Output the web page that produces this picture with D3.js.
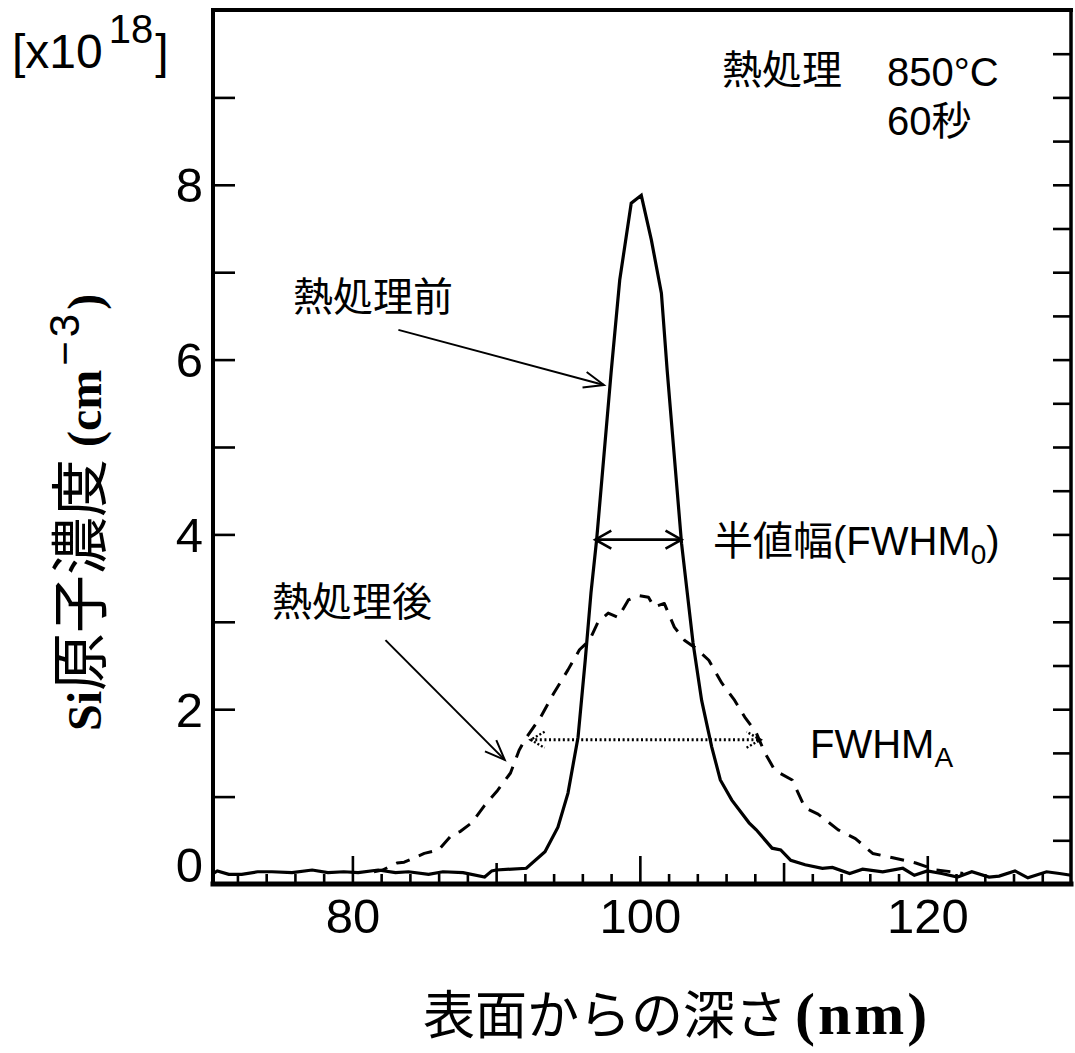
<!DOCTYPE html>
<html>
<head>
<meta charset="utf-8">
<script src="https://cdn.jsdelivr.net/npm/d3@7"></script>
<style>
  body { margin: 0; background: #fff; }
  svg { display: block; }
</style>
</head>
<body>
<svg id="chart" width="1075" height="1053"></svg>
<script>
// SIMS depth profile of Si atoms: as-implanted vs. after anneal (850°C, 60 s)
const depthBefore = [70.3, 70.6, 71.4, 72.3, 73.4, 74.4, 75.8, 77.2, 78.3, 79.4, 80.4, 81.8, 83.0, 83.9, 85.3, 86.3, 87.7, 89.2, 89.7, 90.0, 92.1, 93.4, 94.3, 95.0, 95.7, 96.2, 96.6, 97.0, 98.0, 98.6, 99.4, 100.1, 100.8, 101.5, 101.9, 102.9, 103.7, 104.3, 105.0, 105.6, 106.4, 107.6, 108.1, 109.2, 109.8, 110.5, 111.5, 112.7, 113.4, 114.6, 115.5, 116.9, 118.3, 119.1, 120.0, 121.0, 122.1, 123.1, 124.3, 125.0, 126.1, 127.0, 128.3, 129.2, 130.0];
const concBefore  = [0.12, 0.15, 0.11, 0.11, 0.14, 0.14, 0.13, 0.16, 0.13, 0.14, 0.13, 0.16, 0.13, 0.14, 0.11, 0.14, 0.13, 0.08, 0.15, 0.16, 0.18, 0.37, 0.65, 1.04, 1.68, 2.56, 3.33, 3.95, 5.85, 6.91, 7.79, 7.88, 7.37, 6.76, 5.88, 3.90, 2.76, 2.10, 1.57, 1.19, 0.96, 0.70, 0.62, 0.41, 0.39, 0.27, 0.22, 0.18, 0.19, 0.12, 0.17, 0.14, 0.18, 0.10, 0.15, 0.12, 0.08, 0.14, 0.08, 0.09, 0.15, 0.07, 0.14, 0.12, 0.10];

const depthAfter = [81.5, 82.1, 83.1, 83.6, 85.0, 86.0, 86.9, 87.5, 88.3, 89.2, 90.1, 91.0, 91.6, 92.0, 93.1, 94.0, 95.0, 95.8, 96.5, 97.1, 97.8, 98.5, 99.2, 99.9, 100.6, 101.0, 101.7, 102.4, 103.1, 103.8, 104.8, 105.7, 106.6, 107.3, 108.1, 108.7, 109.4, 110.6, 111.5, 112.4, 113.8, 115.0, 116.2, 117.6, 119.2, 120.6, 121.7, 122.5];
const concAfter  = [0.14, 0.16, 0.24, 0.25, 0.35, 0.39, 0.56, 0.60, 0.70, 0.90, 1.07, 1.27, 1.53, 1.65, 1.91, 2.18, 2.45, 2.68, 2.79, 3.00, 3.10, 3.05, 3.25, 3.30, 3.28, 3.17, 3.21, 2.94, 2.79, 2.71, 2.56, 2.30, 2.10, 1.91, 1.73, 1.50, 1.30, 1.19, 0.87, 0.80, 0.62, 0.52, 0.35, 0.30, 0.24, 0.16, 0.14, 0.12];

// axis ticks
const xTickLabels = [80, 100, 120];
const xTicksMid   = [90, 110];
const xTicksMinor = [72, 74, 76, 78, 82, 84, 86, 88, 92, 94, 96, 98, 102, 104, 106, 108, 112, 114, 116, 118, 122, 124, 126, 128];
const yTickLabels = [0, 2, 4, 6, 8];
const yTicksLeft  = [1, 2, 3, 4, 5, 6, 7, 8, 9];
const yTicksRight = [0.5, 1, 1.5, 2, 2.5, 3, 3.5, 4, 4.5, 5, 5.5, 6, 6.5, 7, 7.5, 8, 8.5, 9, 9.5];

// half-maximum widths (depth from, depth to, level)
const fwhm0 = [96.9, 102.9, 3.94];
const fwhmA = [92.4, 108.4, 1.65];
// callout arrows: [tail depth, tail conc, tip depth, tip conc]
const calloutBefore = [83.2, 6.34, 97.5, 5.71];
const calloutAfter  = [82.3, 2.79, 90.6, 1.42];

const svg = d3.select("#chart");
const L = 213, R = 1071, T = 10, B = 884;

const x = d3.scaleLinear().domain([70.3, 130]).range([L, R]);
const y = d3.scaleLinear().domain([0, 10]).range([B, T]);

const SANS = "'Liberation Sans', Arial, Helvetica, sans-serif";
const CJK  = "'Noto Sans CJK JP', 'Noto Sans CJK SC', sans-serif";
const SERIF = "'Liberation Serif', 'Times New Roman', serif";

// ---- x axis ticks (inward) ----
function bottomTicks(values, size, labels) {
  const ax = d3.axisBottom(x).tickValues(values).tickSize(-size)
    .tickPadding(14).tickFormat(labels ? d3.format("d") : "");
  const g = svg.append("g").attr("transform", `translate(0,${B})`).call(ax);
  g.select(".domain").remove();
  g.selectAll(".tick line").attr("stroke", "#000").attr("stroke-width", 2.6);
  g.selectAll(".tick text").attr("font-family", SANS).attr("font-size", 49)
    .attr("fill", "#000").attr("dy", "0.71em");
  return g;
}
bottomTicks(xTicksMinor, 10, false);
bottomTicks(xTicksMid, 21, false);
bottomTicks(xTickLabels, 28, true);

// ---- y axis ticks ----
const gl = svg.append("g").attr("transform", `translate(${L},0)`)
  .call(d3.axisLeft(y).tickValues(yTicksLeft).tickSize(-22).tickFormat(""));
gl.select(".domain").remove();
gl.selectAll(".tick line").attr("stroke", "#000").attr("stroke-width", 2.6);

const glab = svg.append("g").attr("transform", `translate(${L},0)`)
  .call(d3.axisLeft(y).tickValues(yTickLabels).tickSize(0).tickPadding(10).tickFormat(d3.format("d")));
glab.select(".domain").remove();
glab.selectAll(".tick text").attr("font-family", SANS).attr("font-size", 49).attr("fill", "#000")
  .attr("dy", d => d === 0 ? "-0.05em" : "0.35em");

const gr = svg.append("g").attr("transform", `translate(${R},0)`)
  .call(d3.axisRight(y).tickValues(yTicksRight).tickSize(-18).tickFormat(""));
gr.select(".domain").remove();
gr.selectAll(".tick line").attr("stroke", "#000").attr("stroke-width", 2.6);

// ---- profiles ----
const line = d3.line().x(d => x(d[0])).y(d => y(d[1]));
const before = depthBefore.map((d, i) => [d, concBefore[i]]);
const after = depthAfter.map((d, i) => [d, concAfter[i]]);

svg.append("path").datum(after).attr("d", line)
  .attr("fill", "none").attr("stroke", "#000").attr("stroke-width", 3)
  .attr("stroke-dasharray", "14,10").attr("stroke-linejoin", "round");
svg.append("path").datum(before).attr("d", line)
  .attr("fill", "none").attr("stroke", "#000").attr("stroke-width", 3.2)
  .attr("stroke-linejoin", "miter");

// ---- frame ----
const frame = svg.append("g").attr("stroke", "#000").attr("stroke-linecap", "square");
frame.append("line").attr("x1", L).attr("x2", R).attr("y1", T).attr("y2", T).attr("stroke-width", 4);
frame.append("line").attr("x1", L).attr("x2", L).attr("y1", T).attr("y2", B).attr("stroke-width", 4);
frame.append("line").attr("x1", R).attr("x2", R).attr("y1", T).attr("y2", B).attr("stroke-width", 3.5);
frame.append("line").attr("x1", L).attr("x2", R).attr("y1", B).attr("y2", B).attr("stroke-width", 5);

// ---- arrows ----
function arrowHead(g, x0, y0, x1, y1, len, half, style) {
  const a = Math.atan2(y1 - y0, x1 - x0);
  const bx = x1 - len * Math.cos(a), by = y1 - len * Math.sin(a);
  const nx = -Math.sin(a) * half, ny = Math.cos(a) * half;
  const p = g.append("path")
    .attr("d", `M${bx + nx},${by + ny}L${x1},${y1}L${bx - nx},${by - ny}`)
    .attr("fill", "none").attr("stroke", "#000");
  style(p);
}
const ann = svg.append("g");
function callout(c) {
  const x0 = x(c[0]), y0 = y(c[1]), x1 = x(c[2]), y1 = y(c[3]);
  ann.append("line").attr("x1", x0).attr("y1", y0).attr("x2", x1).attr("y2", y1)
    .attr("stroke", "#000").attr("stroke-width", 2);
  arrowHead(ann, x0, y0, x1, y1, 20, 8, p => p.attr("stroke-width", 2));
}
callout(calloutBefore);
callout(calloutAfter);

// FWHM0 double arrow
{
  const xa = x(fwhm0[0]), xb = x(fwhm0[1]), yy = y(fwhm0[2]);
  ann.append("line").attr("x1", xa).attr("x2", xb).attr("y1", yy).attr("y2", yy)
    .attr("stroke", "#000").attr("stroke-width", 2.6);
  const st = p => p.attr("stroke-width", 2.6);
  arrowHead(ann, xb, yy, xa, yy, 16, 9, st);
  arrowHead(ann, xa, yy, xb, yy, 16, 9, st);
}
// FWHMA dotted double arrow
{
  const xa = x(fwhmA[0]), xb = x(fwhmA[1]), yy = y(fwhmA[2]);
  ann.append("line").attr("x1", xa).attr("x2", xb).attr("y1", yy).attr("y2", yy)
    .attr("stroke", "#000").attr("stroke-width", 3).attr("stroke-dasharray", "2,2.6");
  const st = p => p.attr("stroke-width", 2.4).attr("stroke-dasharray", "2,2");
  arrowHead(ann, xb, yy, xa, yy, 14, 8, st);
  arrowHead(ann, xa, yy, xb, yy, 14, 8, st);
}

// ---- texts ----
function txt(xp, yp, size, family) {
  return svg.append("text").attr("x", xp).attr("y", yp)
    .attr("font-size", size).attr("font-family", family).attr("fill", "#000");
}

// unit multiplier
{
  const t = txt(12, 68, 48, SANS);
  t.append("tspan").text("[x10");
  t.append("tspan").attr("font-size", 40).attr("dx", 6).attr("dy", -25).text("18");
  t.append("tspan").attr("dx", 2).attr("dy", 25).text("]");
}

// anneal condition
txt(722, 84, 40, CJK).text("熱処理");
txt(887, 86, 40, SANS).text("850°C");
{
  const t = txt(887, 135, 40, SANS);
  t.append("tspan").text("60");
  t.append("tspan").attr("font-family", CJK).text("秒");
}

txt(293, 311, 40, CJK).text("熱処理前");
txt(272, 616, 40, CJK).text("熱処理後");

{
  const t = txt(713, 555, 40, CJK);
  t.append("tspan").text("半値幅");
  t.append("tspan").attr("font-family", SANS).text("(FWHM");
  t.append("tspan").attr("font-family", SANS).attr("font-size", 28).attr("dy", 9).text("0");
  t.append("tspan").attr("font-family", SANS).attr("dy", -9).text(")");
}
{
  const t = txt(810, 758, 40, SANS);
  t.append("tspan").text("FWHM");
  t.append("tspan").attr("font-size", 28).attr("dy", 9).text("A");
}

// axis titles
{
  const t = svg.append("text").attr("transform", "translate(101,731) rotate(-90)")
    .attr("fill", "#000");
  t.append("tspan").attr("font-family", SERIF).attr("font-weight", "bold").attr("font-size", 48).text("Si");
  t.append("tspan").attr("font-family", CJK).attr("font-size", 58).text("原子濃度");
  t.append("tspan").attr("font-family", SERIF).attr("font-weight", "bold").attr("font-size", 48).text(" (cm");
  t.append("tspan").attr("font-family", SANS).attr("font-size", 42).attr("dx", 4).attr("dy", -22)
    .attr("letter-spacing", 4).text("−3");
  t.append("tspan").attr("font-family", SERIF).attr("font-weight", "bold").attr("font-size", 48).attr("dy", 22).text(")");
}
{
  const t = svg.append("text").attr("x", 423).attr("y", 1034).attr("fill", "#000");
  t.append("tspan").attr("font-family", CJK).attr("font-size", 52).text("表面からの深さ");
  t.append("tspan").attr("font-family", SERIF).attr("font-weight", "bold").attr("font-size", 60)
    .attr("dx", 8).attr("letter-spacing", 3).text("(nm)");
}
</script>
</body>
</html>
